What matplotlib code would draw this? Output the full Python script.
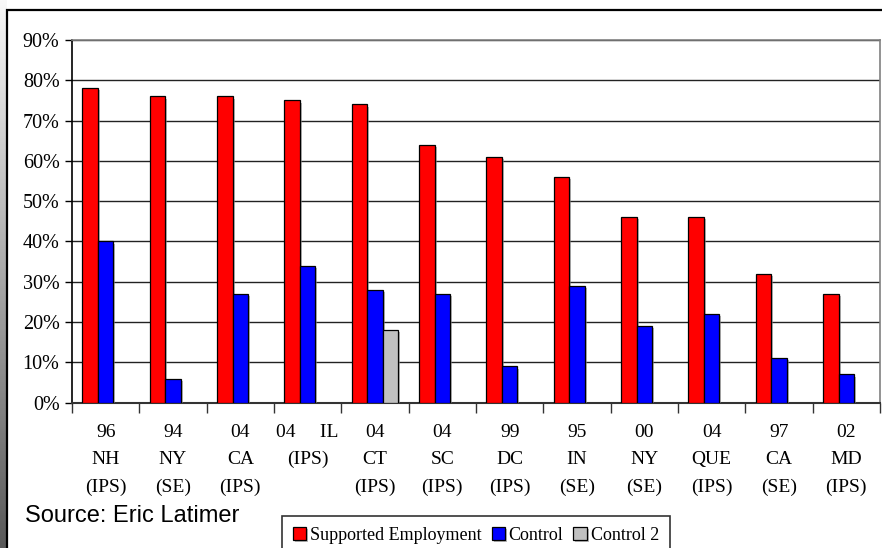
import numpy as np
import matplotlib
matplotlib.use("Agg")
import matplotlib.pyplot as plt
import matplotlib.patheffects as pe
from matplotlib.patches import Rectangle

# data
labels = ["96\nNH\n(IPS)", "94\nNY\n(SE)", "04\nCA\n(IPS)", "04     IL\n(IPS)",
          "04\nCT\n(IPS)", "04\nSC\n(IPS)", "99\nDC\n(IPS)", "95\nIN\n(SE)",
          "00\nNY\n(SE)", "04\nQUE\n(IPS)", "97\nCA\n(SE)", "02\nMD\n(IPS)"]
supported = [78, 76, 76, 75, 74, 64, 61, 56, 46, 46, 32, 27]
control = [40, 6, 27, 34, 28, 27, 9, 29, 19, 22, 11, 7]
control2 = [np.nan, np.nan, np.nan, np.nan, 18, np.nan, np.nan, np.nan, np.nan, np.nan, np.nan, np.nan]
yticks = [0, 10, 20, 30, 40, 50, 60, 70, 80, 90]

W, H = 882, 548
fig = plt.figure(figsize=(W / 100, H / 100), dpi=100)

# gradient strip on the left
gax = fig.add_axes([0, 0, 7 / W, 1])
grad = np.linspace(0.97, 0.35, 256).reshape(-1, 1)
gax.imshow(grad, aspect="auto", cmap="gray", vmin=0, vmax=1)
gax.axis("off")

# outer frame
fig.patches.append(Rectangle((7 / W, -0.1), 1.2, 1 - 10 / H + 0.1, transform=fig.transFigure,
                             fill=False, edgecolor="black", linewidth=1.6))

ax = fig.add_axes([72 / W, (H - 402.7) / H, (880 - 72) / W, (402.7 - 40) / H])

x = np.arange(len(labels))
w = 0.23
shadow = [pe.SimplePatchShadow(offset=(1.5, -1.5), shadow_rgbFace="#888888", alpha=0.6), pe.Normal()]
b1 = ax.bar(x - w, supported, w, color="#ff0000", edgecolor="black", linewidth=0.9,
            label="Supported Employment", zorder=3)
b2 = ax.bar(x, control, w, color="#0000ff", edgecolor="black", linewidth=0.9,
            label="Control", zorder=3)
b3 = ax.bar(x + w, control2, w, color="#c0c0c0", edgecolor="black", linewidth=0.9,
            label="Control 2", zorder=3)
for bars in (b1, b2, b3):
    for p in bars:
        p.set_path_effects(shadow)

ax.set_xlim(-0.5, len(labels) - 0.5)
ax.set_ylim(0, 90)
ax.set_yticks(yticks)
ax.set_yticklabels([f"{v}%" for v in yticks], family="Liberation Serif", fontsize=14.5)
ax.yaxis.grid(True, color="#222222", linewidth=1, zorder=0)
ax.tick_params(axis="y", length=5, width=1, pad=4)

ax.set_xticks(x)
ax.set_xticklabels(labels, family="Liberation Serif", fontsize=14, linespacing=1.8,
                   va="top")
ax.set_xticks(np.arange(len(labels) + 1) - 0.5, minor=True)
ax.tick_params(axis="x", which="major", length=0, pad=15)
ax.tick_params(axis="x", which="minor", length=7, width=1, color="#333333")

for s in ("top", "right"):
    ax.spines[s].set_color("#808080")
    ax.spines[s].set_linewidth(1.2)
ax.spines["left"].set_color("black")
ax.spines["left"].set_linewidth(1.2)
ax.spines["bottom"].set_color("#333333")
ax.spines["bottom"].set_linewidth(1.5)

fig.text(25 / W, 1 - 522 / H, "Source: Eric Latimer", family="Liberation Sans",
         fontsize=17, va="baseline", ha="left")

leg = fig.legend(handles=[b1, b2, b3], loc="upper left", bbox_to_anchor=(282 / W, 1 - 516 / H),
                 ncol=3, frameon=True, fancybox=False, edgecolor="black",
                 prop={"family": "Liberation Serif", "size": 13},
                 handlelength=0.75, handleheight=0.75, handletextpad=0.2,
                 columnspacing=0.55, borderpad=0.6, borderaxespad=0)
leg.get_frame().set_linewidth(1.2)

fig.savefig("out.png", dpi=100)
